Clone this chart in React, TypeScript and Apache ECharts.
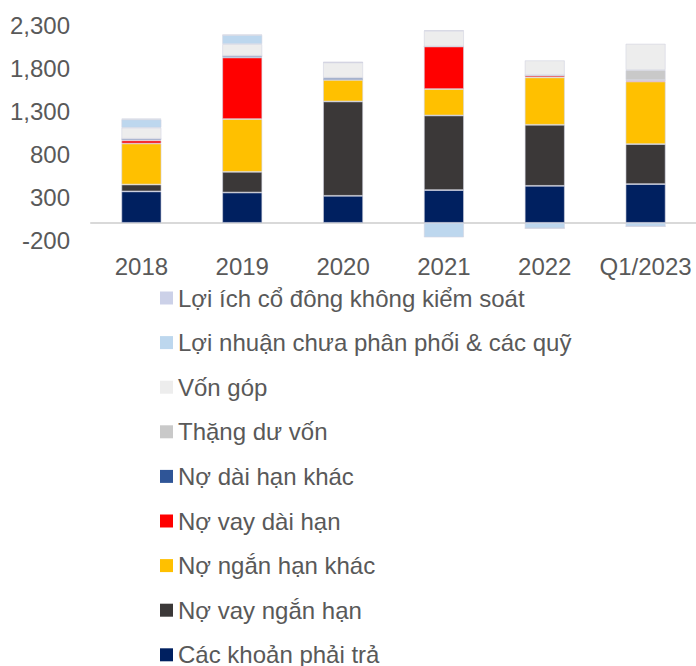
import React, { useEffect, useRef } from "react";
import * as echarts from "echarts";

const categories = ["2018", "2019", "2020", "2021", "2022", "Q1/2023"];

// Stack order: bottom to top
const cacKhoanPhaiTra = [365, 352, 314, 380, 430, 450];
const noVayNganHan = [80, 241, 1097, 868, 710, 465];
const noNganHanKhac = [477, 613, 252, 307, 550, 728];
const noVayDaiHan = [35, 716, 0, 495, 20, 12];
const noDaiHanKhac = [20, 20, 23, 0, 5, 5];
const thangDuVon = [0, 0, 0, 0, 0, 116];
const vonGop = [128, 136, 178, 183, 174, 306];
const loiNhuanChuaPhanPhoi = [98, 105, 0, -170, -65, -43];
const loiIchCoDong = [8, 4, 6, 4, 0, 0];

const yTicks = { min: -200, max: 2300, interval: 500 };

const seriesDefs = [
  { name: "Các khoản phải trả", data: cacKhoanPhaiTra, color: "#002060" },
  { name: "Nợ vay ngắn hạn", data: noVayNganHan, color: "#3B3838" },
  { name: "Nợ ngắn hạn khác", data: noNganHanKhac, color: "#FFC000" },
  { name: "Nợ vay dài hạn", data: noVayDaiHan, color: "#FF0000" },
  { name: "Nợ dài hạn khác", data: noDaiHanKhac, color: "#2F5597" },
  { name: "Thặng dư vốn", data: thangDuVon, color: "#C9C9C9" },
  { name: "Vốn góp", data: vonGop, color: "#EDEDED" },
  { name: "Lợi nhuận chưa phân phối & các quỹ", data: loiNhuanChuaPhanPhoi, color: "#BDD7EE" },
  { name: "Lợi ích cổ đông không kiểm soát", data: loiIchCoDong, color: "#CCD1E8" },
];

const FONT = "'Liberation Sans', Arial, sans-serif";
const TEXT_COLOR = "#595959";

export default function App() {
  const ref = useRef<HTMLDivElement>(null);
  useEffect(() => {
    document.body.style.margin = "0";
    if (!ref.current) return;
    const chart = echarts.init(ref.current, undefined, { renderer: "svg" });
    chart.setOption({
      animation: false,
      textStyle: { fontFamily: FONT },
      grid: { left: 91, right: 0, top: 25, bottom: 426, containLabel: false },
      legend: {
        orient: "vertical",
        left: 160,
        top: 286,
        height: 420,
        padding: 0,
        itemWidth: 13,
        itemHeight: 13,
        itemGap: 20.6,
        icon: "rect",
        selectedMode: false,
        itemStyle: { borderWidth: 0 },
        data: seriesDefs.map((s) => s.name).reverse(),
        textStyle: { fontSize: 24, color: TEXT_COLOR, fontFamily: FONT, lineHeight: 24 },
      },
      xAxis: {
        type: "category",
        data: categories,
        axisLine: { show: true, onZero: true, lineStyle: { color: "#D9D9D9", width: 2 } },
        axisTick: { show: false },
        axisLabel: { fontSize: 24, color: TEXT_COLOR, fontFamily: FONT, margin: 14, interval: 0 },
      },
      yAxis: {
        type: "value",
        min: yTicks.min,
        max: yTicks.max,
        interval: yTicks.interval,
        axisLine: { show: false },
        axisTick: { show: false },
        splitLine: { show: false },
        axisLabel: {
          fontSize: 24,
          color: TEXT_COLOR,
          fontFamily: FONT,
          margin: 21,
          formatter: (v: number) => v.toLocaleString("en-US"),
        },
      },
      series: seriesDefs.map((s) => ({
        name: s.name,
        type: "bar",
        stack: "total",
        barWidth: 40,
        data: s.data,
        itemStyle: { color: s.color, borderColor: "rgba(210,212,225,0.8)", borderWidth: 0.75 },
      })),
    });
    return () => chart.dispose();
  }, []);
  return <div ref={ref} style={{ width: 696, height: 666 }} />;
}
